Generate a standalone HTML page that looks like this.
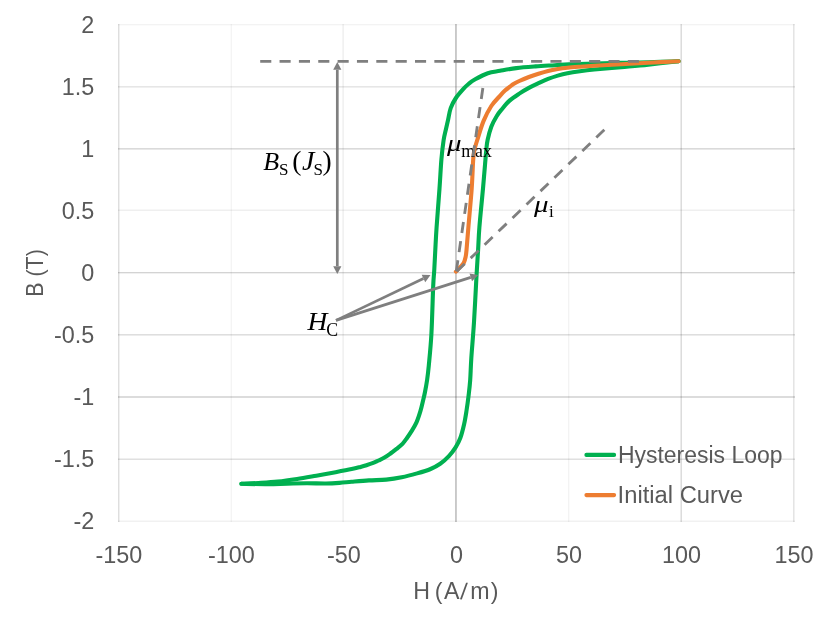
<!DOCTYPE html>
<html lang="en"><head><meta charset="utf-8"><title>Hysteresis Loop</title>
<style>
html,body{margin:0;padding:0;background:#fff;}
body{width:831px;height:625px;overflow:hidden;}
svg{display:block;will-change:transform;}
.sans{font-family:"Liberation Sans",sans-serif;fill:#595959;}
.serif{font-family:"Liberation Serif",serif;fill:#000;}
.it{font-style:italic;}
.gl rect{mix-blend-mode:multiply;}
</style></head><body>
<svg width="831" height="625" viewBox="0 0 831 625" role="img" aria-label="Hysteresis loop chart">
<rect width="831" height="625" fill="#fff"/>
<g class="gl" shape-rendering="crispEdges" style="isolation:isolate">
<rect x="118" y="24" width="1" height="498" fill="#dedede"/>
<rect x="119" y="24" width="1" height="498" fill="#f0f0f0"/>
<rect x="230" y="24" width="1" height="498" fill="#fbfbfb"/>
<rect x="231" y="24" width="1" height="498" fill="#f4f4f4"/>
<rect x="342" y="24" width="1" height="498" fill="#f5f5f5"/>
<rect x="343" y="24" width="1" height="498" fill="#f1f1f1"/>
<rect x="568" y="24" width="1" height="498" fill="#f3f3f3"/>
<rect x="569" y="24" width="1" height="498" fill="#fbfbfb"/>
<rect x="680" y="24" width="1" height="498" fill="#ececec"/>
<rect x="681" y="24" width="1" height="498" fill="#dcdcdc"/>
<rect x="793" y="24" width="1" height="498" fill="#e4e4e4"/>
<rect x="794" y="24" width="1" height="498" fill="#f0f0f0"/>
<rect x="118" y="24" width="677" height="1" fill="#f3f3f3"/>
<rect x="118" y="25" width="677" height="1" fill="#fbfbfb"/>
<rect x="118" y="86" width="677" height="1" fill="#e6e6e6"/>
<rect x="118" y="87" width="677" height="1" fill="#f0f0f0"/>
<rect x="118" y="148" width="677" height="1" fill="#dadada"/>
<rect x="118" y="149" width="677" height="1" fill="#e8e8e8"/>
<rect x="118" y="209" width="677" height="1" fill="#f7f7f7"/>
<rect x="118" y="210" width="677" height="1" fill="#efefef"/>
<rect x="118" y="334" width="677" height="1" fill="#dedede"/>
<rect x="118" y="335" width="677" height="1" fill="#ececec"/>
<rect x="118" y="396" width="677" height="1" fill="#dcdcdc"/>
<rect x="118" y="397" width="677" height="1" fill="#dcdcdc"/>
<rect x="118" y="458" width="677" height="1" fill="#efefef"/>
<rect x="118" y="459" width="677" height="1" fill="#e0e0e0"/>
<rect x="118" y="520" width="677" height="1" fill="#f8f8f8"/>
<rect x="118" y="521" width="677" height="1" fill="#f1f1f1"/>
<rect x="455" y="24" width="1" height="498" fill="#c8c8c8"/>
<rect x="456" y="24" width="1" height="498" fill="#cecece"/>
<rect x="118" y="272" width="677" height="1" fill="#d3d3d3"/>
<rect x="118" y="273" width="677" height="1" fill="#f0f0f0"/>
</g>
<g class="sans" font-size="23.4">
<text x="94.3" y="32.70" text-anchor="end">2</text>
<text x="94.3" y="94.78" text-anchor="end">1.5</text>
<text x="94.3" y="156.86" text-anchor="end">1</text>
<text x="94.3" y="218.94" text-anchor="end">0.5</text>
<text x="94.3" y="281.02" text-anchor="end">0</text>
<text x="94.3" y="343.11" text-anchor="end">-0.5</text>
<text x="94.3" y="405.19" text-anchor="end">-1</text>
<text x="94.3" y="467.27" text-anchor="end">-1.5</text>
<text x="94.3" y="529.35" text-anchor="end">-2</text>
<text x="118.90" y="562.6" text-anchor="middle">-150</text>
<text x="231.40" y="562.6" text-anchor="middle">-100</text>
<text x="343.90" y="562.6" text-anchor="middle">-50</text>
<text x="456.40" y="562.6" text-anchor="middle">0</text>
<text x="568.90" y="562.6" text-anchor="middle">50</text>
<text x="681.40" y="562.6" text-anchor="middle">100</text>
<text x="793.90" y="562.6" text-anchor="middle">150</text>
</g>
<text class="sans" font-size="23.2" y="599.0" x="413.30 428.65 434.65 444.00 460.10 470.20 490.85" rotate="0 0 0 0 5 0 0">H (A/m)</text>
<text class="sans" font-size="23.2" transform="translate(42.9 272.95) rotate(-90)" text-anchor="middle" textLength="47.5" lengthAdjust="spacingAndGlyphs">B (T)</text>
<g fill="none" stroke-width="4.1" stroke-linecap="round" stroke-linejoin="round">
<path stroke="#00b050" d="M678.60 61.20 C673.55 61.37 657.87 61.92 648.30 62.20 C638.73 62.48 630.22 62.68 621.20 62.90 C612.18 63.12 602.92 63.27 594.20 63.50 C585.48 63.73 575.45 64.02 568.90 64.30 C562.35 64.58 560.45 64.85 554.90 65.20 C549.35 65.55 542.03 65.92 535.60 66.40 C529.17 66.88 522.23 67.37 516.30 68.10 C510.37 68.83 504.75 69.95 500.00 70.80 C495.25 71.65 491.93 71.78 487.80 73.20 C483.67 74.62 478.42 77.50 475.20 79.30 C471.98 81.10 470.47 82.40 468.50 84.00 C466.53 85.60 465.50 86.57 463.40 88.90 C461.30 91.23 458.02 94.80 455.90 98.00 C453.78 101.20 452.00 104.48 450.70 108.10 C449.40 111.72 448.88 116.22 448.10 119.70 C447.32 123.18 446.75 125.58 446.00 129.00 C445.25 132.42 444.37 135.12 443.60 140.20 C442.83 145.28 442.08 151.45 441.40 159.50 C440.72 167.55 440.30 177.23 439.50 188.50 C438.70 199.77 437.30 216.85 436.60 227.10 C435.90 237.35 435.68 242.93 435.30 250.00 C434.92 257.07 434.65 263.48 434.30 269.50 C433.95 275.52 433.68 275.32 433.20 286.10 C432.72 296.88 432.13 320.97 431.40 334.20 C430.67 347.43 429.52 357.87 428.80 365.50 C428.08 373.13 427.73 375.58 427.10 380.00 C426.47 384.42 425.65 388.67 425.00 392.00 C424.35 395.33 423.97 396.80 423.20 400.00 C422.43 403.20 421.52 407.47 420.40 411.20 C419.28 414.93 418.00 419.03 416.50 422.40 C415.00 425.77 412.98 428.80 411.40 431.40 C409.82 434.00 408.48 435.93 407.00 438.00 C405.52 440.07 404.25 441.98 402.50 443.80 C400.75 445.62 398.50 447.28 396.50 448.90 C394.50 450.52 392.50 452.05 390.50 453.50 C388.50 454.95 386.50 456.43 384.50 457.60 C382.50 458.77 380.50 459.57 378.50 460.50 C376.50 461.43 374.50 462.42 372.50 463.20 C370.50 463.98 368.50 464.58 366.50 465.20 C364.50 465.82 362.98 466.25 360.50 466.90 C358.02 467.55 355.75 468.22 351.60 469.10 C347.45 469.98 341.48 471.10 335.60 472.20 C329.72 473.30 322.72 474.57 316.30 475.70 C309.88 476.83 303.52 478.02 297.10 479.00 C290.68 479.98 284.23 480.93 277.80 481.60 C271.37 482.27 264.57 482.63 258.50 483.00 C252.43 483.37 244.25 483.67 241.40 483.80"/>
<path stroke="#00b050" d="M241.40 483.80 C245.87 483.87 260.53 484.23 268.20 484.20 C275.87 484.17 280.98 483.75 287.40 483.60 C293.82 483.45 300.27 483.32 306.70 483.30 C313.13 483.28 320.53 483.57 326.00 483.50 C331.47 483.43 335.23 483.18 339.50 482.90 C343.77 482.62 346.70 482.22 351.60 481.80 C356.50 481.38 363.13 480.77 368.90 480.40 C374.67 480.03 380.73 480.12 386.20 479.60 C391.67 479.08 396.55 478.33 401.70 477.30 C406.85 476.27 412.28 474.78 417.10 473.40 C421.92 472.02 426.75 470.60 430.60 469.00 C434.45 467.40 437.15 465.95 440.20 463.80 C443.25 461.65 446.33 458.83 448.90 456.10 C451.47 453.37 453.68 450.45 455.60 447.40 C457.52 444.35 458.98 441.65 460.40 437.80 C461.82 433.95 463.08 428.80 464.10 424.30 C465.12 419.80 465.75 415.62 466.50 410.80 C467.25 405.98 467.98 400.53 468.60 395.40 C469.22 390.27 469.75 386.18 470.20 380.00 C470.65 373.82 470.67 367.93 471.30 358.30 C471.93 348.67 473.12 336.23 474.00 322.20 C474.88 308.17 475.92 286.13 476.60 274.10 C477.28 262.07 477.63 257.83 478.10 250.00 C478.57 242.17 478.58 237.35 479.40 227.10 C480.22 216.85 482.07 198.85 483.00 188.50 C483.93 178.15 484.45 171.42 485.00 165.00 C485.55 158.58 485.87 154.17 486.30 150.00 C486.73 145.83 486.77 143.88 487.60 140.00 C488.43 136.12 489.77 130.70 491.30 126.70 C492.83 122.70 495.03 118.92 496.80 116.00 C498.57 113.08 499.77 111.77 501.90 109.20 C504.03 106.63 506.70 103.20 509.60 100.60 C512.50 98.00 516.08 95.72 519.30 93.60 C522.52 91.48 525.70 89.63 528.90 87.90 C532.10 86.17 535.30 84.70 538.50 83.20 C541.70 81.70 544.88 80.17 548.10 78.90 C551.32 77.63 554.58 76.55 557.80 75.60 C561.02 74.65 563.72 73.93 567.40 73.20 C571.08 72.47 575.43 71.82 579.90 71.20 C584.37 70.58 587.32 70.18 594.20 69.50 C601.08 68.82 612.18 67.92 621.20 67.10 C630.22 66.28 638.73 65.58 648.30 64.60 C657.87 63.62 673.55 61.77 678.60 61.20"/>
<path stroke="#ed7d31" d="M455.90 271.60 C456.70 270.75 459.38 267.97 460.70 266.50 C462.02 265.03 462.98 264.38 463.80 262.80 C464.62 261.22 465.15 259.10 465.60 257.00 C466.05 254.90 466.03 255.18 466.50 250.20 C466.97 245.22 467.53 237.38 468.40 227.10 C469.27 216.82 470.90 199.77 471.70 188.50 C472.50 177.23 472.75 165.92 473.20 159.50 C473.65 153.08 473.63 153.53 474.40 150.00 C475.17 146.47 476.27 143.15 477.80 138.30 C479.33 133.45 481.35 126.28 483.60 120.90 C485.85 115.52 488.57 110.18 491.30 106.00 C494.03 101.82 497.72 98.37 500.00 95.80 C502.28 93.23 503.33 92.13 505.00 90.60 C506.67 89.07 508.58 87.70 510.00 86.60 C511.42 85.50 511.95 84.93 513.50 84.00 C515.05 83.07 516.73 82.17 519.30 81.00 C521.87 79.83 525.70 78.22 528.90 77.00 C532.10 75.78 535.30 74.72 538.50 73.70 C541.70 72.68 544.88 71.68 548.10 70.90 C551.32 70.12 554.58 69.53 557.80 69.00 C561.02 68.47 563.72 68.08 567.40 67.70 C571.08 67.32 575.43 67.02 579.90 66.70 C584.37 66.38 587.32 66.20 594.20 65.80 C601.08 65.40 612.18 64.80 621.20 64.30 C630.22 63.80 638.73 63.32 648.30 62.80 C657.87 62.28 673.55 61.47 678.60 61.20"/>
</g>
<g fill="none" stroke-width="4.1" stroke-linecap="round">
<line stroke="#00b050" x1="586.4" y1="454.9" x2="614.1" y2="454.9"/>
<line stroke="#ed7d31" x1="586.4" y1="495.1" x2="614.1" y2="495.1"/>
</g>
<g class="sans" font-size="23.0">
<text x="617.9" y="462.7" textLength="164.6" lengthAdjust="spacingAndGlyphs">Hysteresis Loop</text>
<text x="617.6" y="502.5" textLength="125.4" lengthAdjust="spacingAndGlyphs">Initial Curve</text>
</g>
<g class="serif">
<text y="169.7" font-size="26"><tspan class="it" x="263.3">B</tspan><tspan x="279.1" dy="4.8" font-size="17">S</tspan><tspan x="292.3" dy="-4.6" font-size="27.5">(</tspan><tspan class="it" x="301.9" dy="0.3" font-size="28">J</tspan><tspan x="313.6" dy="4.3" font-size="17">S</tspan><tspan x="322.6" dy="-4.6" font-size="27.5">)</tspan></text>
<text class="it" transform="translate(446.9 151.2) scale(1.25 1)" font-size="23.2">μ</text>
<text x="461.2" y="156.8" font-size="17.8">max</text>
<text class="it" transform="translate(533.9 211.7) scale(1.25 1)" font-size="23.2">μ</text>
<text x="549.0" y="216.9" font-size="17.1">i</text>
<text class="it" transform="translate(307.5 330.2) scale(1.085 1)" font-size="25.4">H</text>
<text x="326.2" y="335.5" font-size="17.8">C</text>
</g>
<g fill="none" stroke="#7f7f7f" stroke-width="2.85" stroke-dasharray="11.1 8.25">
<line x1="260.2" y1="61.3" x2="639.5" y2="61.3"/>
<line x1="456.3" y1="271.3" x2="484.0" y2="80.1"/>
<line x1="456.7" y1="271.5" x2="605.5" y2="128.7"/>
</g>
<g stroke="#7f7f7f" stroke-width="2.7" fill="#7f7f7f">
<line x1="337.30" y1="69.80" x2="337.30" y2="266.20"/>
<polygon stroke="none" points="337.30,62.00 341.40,69.80 333.20,69.80"/>
<polygon stroke="none" points="337.30,274.00 333.20,266.20 341.40,266.20"/>
<line x1="336.00" y1="320.40" x2="423.47" y2="278.47"/>
<polygon stroke="none" points="430.50,275.10 425.24,282.17 421.69,274.77"/>
<line x1="336.00" y1="320.40" x2="470.77" y2="277.37"/>
<polygon stroke="none" points="478.20,275.00 472.02,281.28 469.52,273.47"/>
</g>
</svg>
</body></html>
